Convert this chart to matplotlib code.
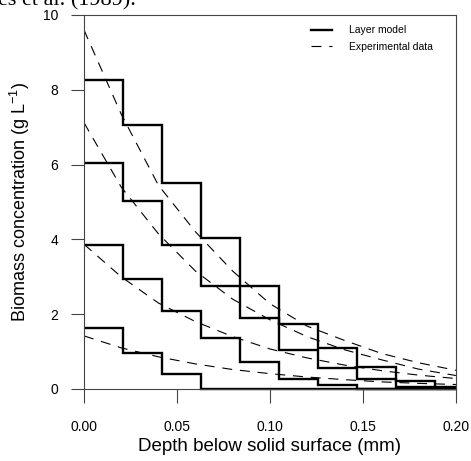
import matplotlib
matplotlib.use('Agg')
import matplotlib.pyplot as plt

plt.rcParams['font.family'] = ['Liberation Sans', 'DejaVu Sans']
plt.rcParams['mathtext.fontset'] = 'custom'
plt.rcParams['mathtext.rm'] = 'Liberation Sans'
plt.rcParams['mathtext.it'] = 'Liberation Sans:italic'

# layer boundaries (mm)
edges = [0.0, 0.021, 0.042, 0.063, 0.084, 0.105, 0.126, 0.147, 0.168, 0.189, 0.2]

# layer model, biomass per layer (g/L)
layer_a = [8.25, 7.05, 5.5, 4.04, 2.76, 1.74, 1.09, 0.6, 0.22, 0.04]
layer_b = [6.05, 5.03, 3.84, 2.76, 1.9, 1.05, 0.55, 0.28, 0.06, 0.02]
layer_c = [3.86, 2.94, 2.09, 1.36, 0.71, 0.28, 0.1, 0.0, 0.0, 0.0]
layer_d = [1.64, 0.95, 0.40, 0.0, 0.0, 0.0, 0.0, 0.0, 0.0, 0.0]

# experimental profiles
depth = [0.0, 0.02, 0.04, 0.06, 0.08, 0.10, 0.12, 0.14, 0.16, 0.18, 0.20]
exp_a = [9.6, 7.35, 5.45, 4.2, 3.15, 2.28, 1.68, 1.3, 0.95, 0.7, 0.5]
exp_b = [7.12, 5.4, 4.15, 3.15, 2.4, 1.85, 1.4, 1.05, 0.78, 0.53, 0.36]
exp_c = [3.87, 3.0, 2.3, 1.8, 1.4, 1.07, 0.83, 0.64, 0.49, 0.37, 0.28]
exp_d = [1.42, 1.1, 0.86, 0.67, 0.52, 0.41, 0.32, 0.25, 0.19, 0.15, 0.12]

fig = plt.figure(figsize=(4.71, 4.61), dpi=100)
ax = fig.add_axes([0.1783, 0.1562, 0.7897, 0.8113])

for i, vals in enumerate([layer_a, layer_b, layer_c, layer_d]):
    ax.stairs(vals, edges, baseline=None, color='black', lw=1.7, clip_on=False,
              label='Layer model' if i == 0 else None)

for i, vals in enumerate([exp_a, exp_b, exp_c, exp_d]):
    ax.plot(depth, vals, color='black', lw=0.8, dashes=(9, 7),
            label='Experimental data' if i == 0 else None)

ax.set_xlim(0, 0.2)
ax.set_ylim(0, 10)
ax.set_xticks([0.0, 0.05, 0.10, 0.15, 0.20])
ax.set_xticklabels(['0.00', '0.05', '0.10', '0.15', '0.20'])
ax.set_yticks([0, 2, 4, 6, 8, 10])

for sp in ax.spines.values():
    sp.set_color('#444444')
    sp.set_linewidth(0.8)
ax.tick_params(axis='x', direction='out', length=10, width=0.8, color='#444444',
               pad=12, labelsize=10)
ax.tick_params(axis='y', direction='out', length=9.5, width=0.8, color='#444444',
               pad=9, labelsize=10)

ax.set_xlabel('Depth below solid surface (mm)', fontsize=13.5, labelpad=3)
ax.set_ylabel('Biomass concentration (g L$^{\\mathregular{-1}}$)', fontsize=13,
              labelpad=8)

leg = ax.legend(loc='upper right', frameon=False, fontsize=7.5, handlelength=2.0,
                handletextpad=1.6, borderaxespad=0.6, labelspacing=0.6,
                bbox_to_anchor=(0.965, 1.0))

# clipped caption line from the page above the figure
fig.text(-0.005, 0.989, 'es et al. (1989).', fontsize=16, family='Liberation Serif',
         va='baseline', ha='left')

fig.savefig('out.png', dpi=100)
